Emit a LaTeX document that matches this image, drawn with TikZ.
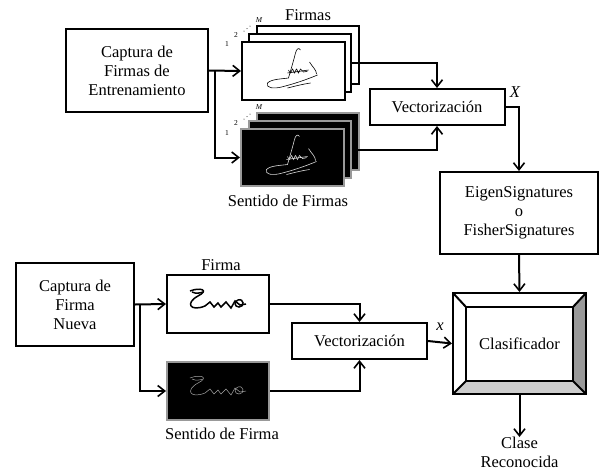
\documentclass[tikz,border=0pt]{standalone}
\usepackage{fontspec}
\setmainfont{Liberation Serif}
\usetikzlibrary{arrows.meta,calc}
\tikzset{
  box/.style={draw, line width=2pt, fill=white, inner sep=0pt, align=center, font=\fontsize{16.5}{19}\selectfont},
  card/.style={draw, line width=2pt, fill=white, inner sep=0pt},
  dcard/.style={draw=black!40, line width=2pt, fill=black, inner sep=0pt},
  conn/.style={line width=2pt, -{Straight Barb[length=7pt,width=11pt,line width=1.6pt]}},
  lbl/.style={inner sep=0pt, align=center, font=\fontsize{16.5}{19}\selectfont},
  tiny/.style={inner sep=0pt, font=\fontsize{7.5}{8}\selectfont},
  sig/.style={line width=0.6pt},
}
\newcommand\sigmany[1]{%
  \draw[sig,#1] (7,-21) .. controls (5,-24) and (3,-22) .. (2,-18) .. controls (0,-10) and (-3,0) .. (-5,7) .. controls (-12,8) and (-22,8) .. (-26,12) .. controls (-28,17) and (-20,18) .. (-12,16) .. controls (0,13) and (12,9) .. (24,4);
  \draw[sig,#1] plot[smooth] coordinates {(-5,-1) (-3,2) (-1,-2) (1,2) (3,-2) (5,2) (7,-2) (10,1) (14,0)};
  \draw[sig,#1] (-6,2) -- (15,-1);
  \draw[sig,#1] (16,-9) .. controls (19,-4) and (23,-1) .. (23,3);
  \draw[sig,#1] (-6,17) .. controls (2,15) and (10,13) .. (17,12);
}
\newcommand\sigone[2]{%
  \draw[line width=#2,#1] (-28,-13) .. controls (-18,-17) and (-8,-14) .. (-20,-8) .. controls (-33,-1) and (-28,8) .. (-13,2) -- (-8,-2) -- (-4,3) -- (0,-1) -- (3,3) -- (8,-2) -- (13,4) -- (17,-3) -- (22,1) -- (28,0);
  \draw[line width=#2,#1] (20,-4) .. controls (26,-6) and (27,3) .. (21,3) .. controls (16,3) and (16,-3) .. (20,-4);
  \draw[line width=#2,#1] (-26,-12) .. controls (-22,-10) and (-18,-11) .. (-15,-12);
}
\begin{document}
\begin{tikzpicture}[x=1pt,y=-1pt]
\useasboundingbox (0,0) rectangle (603,475);

% ---------- training ----------
\node[box, minimum width=142pt, minimum height=83pt] (cap1) at (137,70.5) {Captura de\\Firmas de\\Entrenamiento};

% Firmas stack
\node[card, minimum width=102pt, minimum height=58pt] (f3) at (308,55) {};
\node[card, minimum width=102pt, minimum height=58pt] (f2) at (300,63) {};
\node[card, minimum width=103pt, minimum height=58pt] (f1) at (293.5,71) {};
\begin{scope}[shift={(f1.center)}] \sigmany{black} \end{scope}
\node[lbl] (tf) at (308,15) {Firmas};
\node[tiny] (n1a) at (227,44) {1};
\node[tiny] (n2a) at (236,35) {2};
\node[tiny] (nMa) at (259,20) {\itshape M};
\fill (244,31) circle (0.5pt) (247,28.5) circle (0.5pt) (250,26) circle (0.5pt);

% Sentido stack
\node[dcard, minimum width=102pt, minimum height=57pt] (s3) at (308,141.5) {};
\node[dcard, minimum width=102pt, minimum height=57pt] (s2) at (300,149.5) {};
\node[dcard, minimum width=103pt, minimum height=57pt] (s1) at (292.5,157.5) {};
\begin{scope}[shift={(s1.center)}] \sigmany{black!15} \end{scope}
\node[lbl] (ts) at (288,201) {Sentido de Firmas};
\node[tiny] (n1b) at (227,133) {1};
\node[tiny] (n2b) at (236,123) {2};
\node[tiny] (nMb) at (259,107) {\itshape M};
\fill (244,119) circle (0.5pt) (247,116.5) circle (0.5pt) (250,114) circle (0.5pt);

\node[box, minimum width=135pt, minimum height=36pt] (vec1) at (437,107) {Vectorización};
\node[box, minimum width=158pt, minimum height=82pt] (eig) at (519,213) {EigenSignatures\\o\\FisherSignatures};

\coordinate (br1) at (215,71);
\draw[conn] (cap1.east) -- (f1.west);
\draw[conn] (br1) |- (s1.west);
\draw[conn] (f2.east) -| (vec1.north);
\draw[conn] (s2.east) -| (vec1.south);
\draw[conn] (vec1.east) -| (eig.north);
\node[lbl, font=\fontsize{16.5}{19}\selectfont\itshape] (X) at (515,92) {X};

% ---------- classifier ----------
\coordinate (oTL) at (453,293); \coordinate (oTR) at (586,293);
\coordinate (oBL) at (453,394); \coordinate (oBR) at (586,394);
\coordinate (iTL) at (466,307); \coordinate (iTR) at (573,307);
\coordinate (iBL) at (466,381); \coordinate (iBR) at (573,381);
\fill[white] (oTL) -- (oTR) -- (iTR) -- (iTL) -- cycle;
\fill[white] (oTL) -- (iTL) -- (iBL) -- (oBL) -- cycle;
\fill[black!40] (oTR) -- (oBR) -- (iBR) -- (iTR) -- cycle;
\fill[black!20] (oBL) -- (oBR) -- (iBR) -- (iBL) -- cycle;
\draw[line width=2pt] (oTL) -- (iTL) (oTR) -- (iTR) (oBL) -- (iBL) (oBR) -- (iBR);
\node[box, fill=none, minimum width=133pt, minimum height=101pt] (clas) at (519.5,343.5) {};
\node[box, minimum width=107pt, minimum height=74pt] (clasin) at (519.5,344) {Clasificador};

\draw[conn] (eig.south) -- (clas.north);
\node[lbl, anchor=north] (clase) at (519.5,437) {Clase\\Reconocida};
\draw[conn] (clas.south) -- (clase.north);

% ---------- new signature ----------
\node[box, minimum width=118pt, minimum height=83pt] (cap2) at (75,304.5) {Captura de\\Firma\\Nueva};
\node[card, minimum width=102pt, minimum height=58pt] (fc) at (218,304) {};
\begin{scope}[shift={(fc.center)}] \sigone{black}{1.5pt} \end{scope}
\node[lbl] (tfc) at (221,265) {Firma};
\node[dcard, minimum width=102pt, minimum height=58pt] (sc) at (218,391) {};
\begin{scope}[shift={(sc.center)}] \sigone{black!35}{0.5pt} \end{scope}
\node[lbl] (tsc) at (222,434) {Sentido de Firma};
\node[box, minimum width=135pt, minimum height=36pt] (vec2) at (359.5,341) {Vectorización};

\coordinate (br2) at (140,304);
\draw[conn] (cap2.east) -- (fc.west);
\draw[conn] (br2) |- (sc.west);
\draw[conn] (fc.east) -| (vec2.north);
\draw[conn] (sc.east) -| (vec2.south);
\draw[conn] (vec2.east) -- (clas.west);
\node[lbl, font=\fontsize{16.5}{19}\selectfont\itshape] (xs) at (440,327) {x};
\end{tikzpicture}
\end{document}
